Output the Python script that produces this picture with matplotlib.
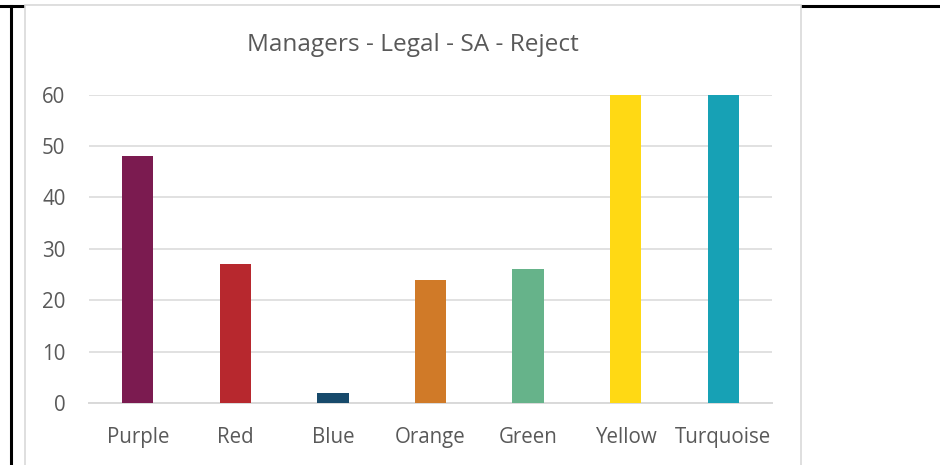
import matplotlib
matplotlib.use("Agg")
import matplotlib.pyplot as plt
from matplotlib.lines import Line2D
from matplotlib.patches import Rectangle

# chart data
categories = ['Purple', 'Red', 'Blue', 'Orange', 'Green', 'Yellow', 'Turquoise']
values = [48, 27, 2, 24, 26, 60, 60]
bar_colors = ['#7B1B50', '#B7282E', '#174A6B', '#D07A28', '#66B38A', '#FFD914', '#17A1B5']
yticks = [0, 10, 20, 30, 40, 50, 60]
title = 'Managers - Legal - SA - Reject'

W, H = 940, 465
plt.rcParams['font.family'] = ['Open Sans', 'DejaVu Sans']
fig = plt.figure(figsize=(W / 100, H / 100), dpi=100)
fig.patch.set_facecolor('white')

# table border lines behind the chart
fig.add_artist(Line2D([0, 1], [1 - 6.5 / H, 1 - 6.5 / H], color='black', lw=2.2, zorder=-3))
fig.add_artist(Line2D([11 / W, 11 / W], [0, 1 - 6.5 / H], color='black', lw=2.2, zorder=-3))

# chart frame (covers the table line)
fig.add_artist(Rectangle((25 / W, -0.01), (801 - 25) / W, (H - 5.2) / H + 0.01,
                         facecolor='white', edgecolor='#D9D9D9', lw=1.2, zorder=-2))

ax = fig.add_axes([89 / W, 1 - 403 / H, (772 - 89) / W, (403 - 94.7) / H])
ax.set_facecolor('none')
x = range(len(categories))
ax.bar(x, values, width=0.32, color=bar_colors, zorder=3)

ax.set_xlim(-0.5, len(categories) - 0.5)
ax.set_ylim(0, 60)
ax.set_yticks(yticks)
ax.set_xticks(list(x))
ax.set_xticklabels(categories)
ax.grid(axis='y', color='#D9D9D9', lw=1.1, zorder=0)
ax.set_axisbelow(True)
for s in ['top', 'right', 'left']:
    ax.spines[s].set_visible(False)
ax.spines['bottom'].set_color('#D9D9D9')
ax.spines['bottom'].set_linewidth(1.4)
ax.tick_params(axis='both', length=0, labelcolor='#595959', labelsize=14.8)
ax.tick_params(axis='x', pad=17)
ax.tick_params(axis='y', pad=17)

fig.text(413 / W, 1 - 45 / H, title, ha='center', va='center',
         fontsize=17.6, color='#595959')

fig.savefig('out.png', dpi=100)
